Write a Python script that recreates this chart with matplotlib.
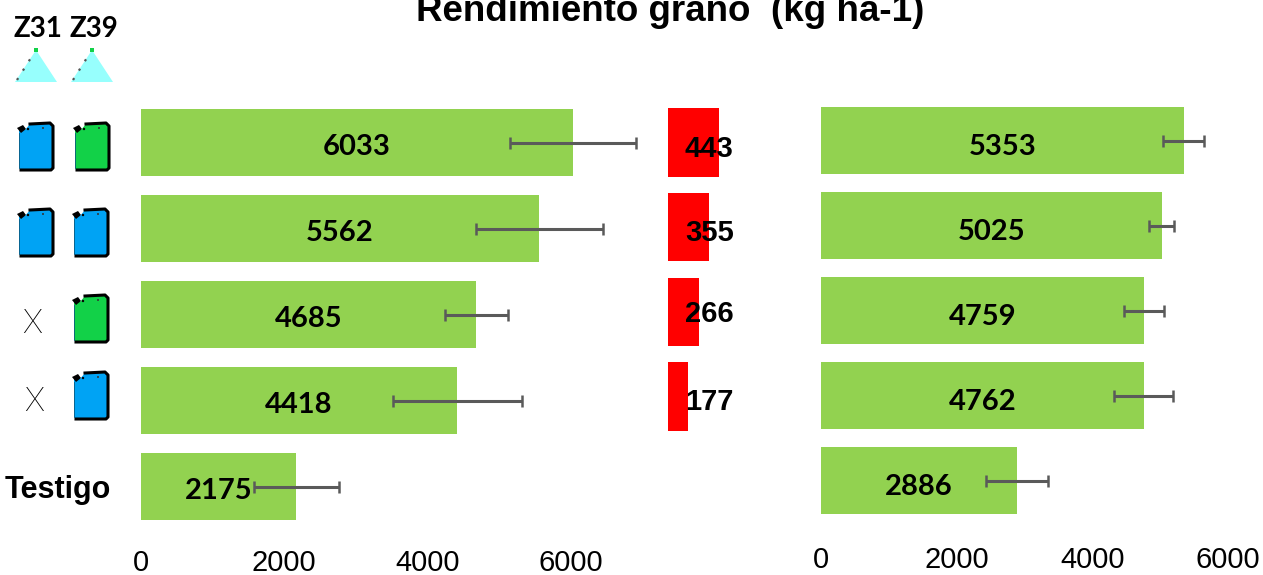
import matplotlib
matplotlib.use("Agg")
import matplotlib.pyplot as plt
from matplotlib.patches import Polygon, Circle

W, H = 1263, 575

#top to bottom, same order as in the picture
left_values = [6033, 5562, 4685, 4418, 2175]
left_errors = [879, 885, 440, 900, 592]

red_values = [443, 355, 266, 177]

right_values = [5353, 5025, 4759, 4762, 2886]
right_errors = [302, 184, 295, 435, 457]

ticks = [0, 2000, 4000, 6000]

GREEN = "#92D250"
GREY = "#5A5A5A"
BLUE = "#00A3F4"
CAN_GREEN = "#12D148"
NUM_FONT = "Lato"
TICK_FONT = "Liberation Sans"


def pixel_axes(fig, x0, x1, top, bottom):
	return fig.add_axes([x0 / W, 1 - bottom / H, (x1 - x0) / W, (bottom - top) / H])


def hide_frame(ax):
	for side in ax.spines.values():
		side.set_visible(False)
	ax.set_yticks([])


def bar_panel(fig, x0, x1, top, bottom, xmax, values, errors, height, label_dy, tick_pad):
	ax = pixel_axes(fig, x0, x1, top, bottom)
	pos = list(range(len(values)))
	ax.barh(pos, values, height=height, color=GREEN, zorder=1)
	ax.errorbar(values, pos, xerr=errors, fmt="none", ecolor=GREY, elinewidth=2.2,
		capsize=4, capthick=1.8, zorder=2)
	for p, v in zip(pos, values):
		ax.text(v / 2, p + label_dy, str(v), ha="center", va="center", fontsize=21,
			fontweight="bold", family=NUM_FONT, zorder=3)
	ax.set_xlim(0, xmax)
	ax.set_ylim(len(values) - 0.5, -0.5)
	ax.set_xticks(ticks)
	ax.tick_params(axis="x", length=0, labelsize=21, pad=tick_pad)
	for lab in ax.get_xticklabels():
		lab.set_family(TICK_FONT)
	hide_frame(ax)
	return ax


def can(ov, x, y, color):
	#x, y = top left corner of the jerrycan in pixels
	w, h = 36, 47
	body = [(x + 2, y + 7), (x + 8, y + 7), (x + 13, y + 1), (x + w - 3, y), (x + w, y + 3),
		(x + w, y + h - 2), (x + w - 2, y + h), (x + 4, y + h), (x + 2, y + h - 2)]
	ov.add_patch(Polygon(body, closed=True, fc=color, ec="none"))
	#edge is heavier on the right and the bottom
	ov.plot([x + 13, x + w - 3, x + w, x + w, x + w - 2, x + 4],
		[y + 1, y, y + 3, y + h - 2, y + h, y + h], color="black", lw=2.2)
	ov.plot([x + 2, x + 2], [y + 10, y + h - 2], color="#0A5A80", lw=0.6)
	ov.add_patch(Polygon([(x, y + 5), (x + 6, y + 2), (x + 9, y + 6), (x + 4, y + 10)],
		closed=True, fc="black", ec="none"))
	ov.add_patch(Circle((x + 11, y + 6), 1.2, fc="black", ec="none"))
	ov.add_patch(Circle((x + w - 10, y + 5), 1, fc="#333333", ec="none"))


def triangle(ov, x, y):
	#x, y = apex of the little plant icon
	ov.add_patch(Polygon([(x, y), (x + 21, y + 32), (x - 21, y + 32)], closed=True,
		fc="#97FFFD", ec="none"))
	ov.plot([x - 19, x - 2], [y + 30, y + 3], ls=(0, (1, 4)), color="#555555", lw=1.6)
	ov.add_patch(Polygon([(x - 2, y - 2), (x + 2, y - 2), (x + 2, y + 2), (x - 2, y + 2)],
		closed=True, fc="#12D148", ec="none"))


fig = plt.figure(figsize=(W / 100, H / 100), dpi=100)

#left panel: 86 px between bars
bar_panel(fig, 140.5, 140.5 + 8000 * 0.0717, 99.5, 529.5, 8000, left_values, left_errors, 0.78, 0.05, 14)

#middle panel: red bars, labels overflow the bars
red_ax = pixel_axes(fig, 668, 668 + 600 * 0.115, 100, 439)
red_pos = list(range(len(red_values)))
red_ax.barh(red_pos, red_values, height=0.81, color="#FF0000")
red_ax.set_xlim(0, 600)
red_ax.set_ylim(len(red_values) - 0.5, -0.5)
red_ax.set_xticks([])
hide_frame(red_ax)
red_dy = [0.08, 0.07, 0.03, 0.06]
for p, v, d in zip(red_pos, red_values, red_dy):
	red_ax.text(358, p + d, str(v), ha="center", va="center", fontsize=21,
		fontweight="bold", family=TICK_FONT, clip_on=False)

#right panel
bar_panel(fig, 821, 821 + 6400 * 0.0678, 98, 523, 6400, right_values, right_errors, 0.79, 0.08, 16.5)

#overlay in pixel coordinates for the icons and headers
ov = fig.add_axes([0, 0, 1, 1], zorder=5)
ov.set_xlim(0, W)
ov.set_ylim(H, 0)
ov.axis("off")

#title runs off the top edge in the reference too
ov.text(670, 21, "Rendimiento grano  (kg ha-1)", ha="center", va="baseline", fontsize=26.5,
	fontweight="bold", family=TICK_FONT)
ov.text(38, 29, "Z31", ha="center", va="center", fontsize=20, fontweight="bold", family=NUM_FONT)
ov.text(94, 29, "Z39", ha="center", va="center", fontsize=20, fontweight="bold", family=NUM_FONT)
ov.text(58, 490, "Testigo", ha="center", va="center", fontsize=22, fontweight="bold", family=TICK_FONT)

triangle(ov, 36, 50)
triangle(ov, 92, 50)

can(ov, 17, 123, BLUE)
can(ov, 73, 123, CAN_GREEN)
can(ov, 17, 209, BLUE)
can(ov, 72, 209, BLUE)
can(ov, 72, 295, CAN_GREEN)
can(ov, 72, 372, BLUE)

ov.text(32, 324, "X", ha="center", va="center", fontsize=24, fontweight="light", family="Roboto")
ov.text(34, 402, "X", ha="center", va="center", fontsize=24, fontweight="light", family="Roboto")

fig.savefig("out.png", dpi=100)
